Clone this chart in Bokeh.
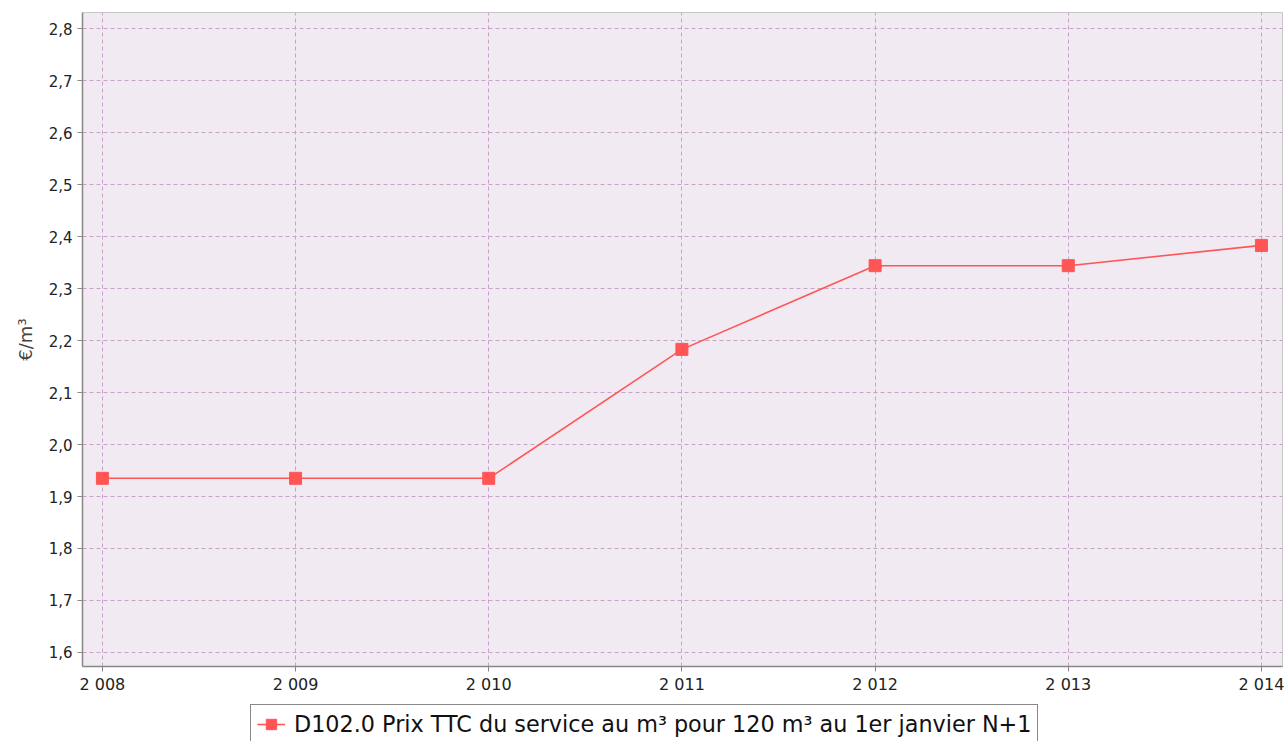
from bokeh.plotting import figure
from bokeh.models import (FixedTicker, CustomJSTickFormatter, Legend, LegendItem, Range1d, ColumnDataSource)
from bokeh.layouts import column
from bokeh.embed import file_html
from bokeh.resources import INLINE

years = [2008, 2009, 2010, 2011, 2012, 2013, 2014]
prices = [1.935, 1.935, 1.935, 2.183, 2.344, 2.344, 2.383]
year_labels = ["2 008", "2 009", "2 010", "2 011", "2 012", "2 013", "2 014"]
y_ticks = [1.6, 1.7, 1.8, 1.9, 2.0, 2.1, 2.2, 2.3, 2.4, 2.5, 2.6, 2.7, 2.8]
series_name = "D102.0 Prix TTC du service au m³ pour 120 m³ au 1er janvier N+1"
y_title = "€/m³"

FONT = "DejaVu Sans"
RED = "#ff5555"

p = figure(width=1288, height=696, output_backend="svg", toolbar_location=None,
           x_range=Range1d(2007.897, 2014.109), y_range=Range1d(1.573, 2.831),
           min_border_left=82, min_border_right=6, min_border_top=12, min_border_bottom=30)

p.background_fill_color = "#f2eaf2"
p.border_fill_color = "white"
p.outline_line_color = "#c8c8c8"
p.outline_line_width = 1

for g in (p.xgrid, p.ygrid):
    g.grid_line_color = "#c6a4c8"
    g.grid_line_dash = "4 3"
    g.grid_line_width = 1

p.xaxis.ticker = FixedTicker(ticks=years)
p.xaxis.major_label_overrides = {y: l for y, l in zip(years, year_labels)}
p.yaxis.ticker = FixedTicker(ticks=y_ticks)
p.yaxis.formatter = CustomJSTickFormatter(code="return tick.toFixed(1).replace('.', ',');")

for ax in (p.xaxis[0], p.yaxis[0]):
    ax.axis_line_color = "#888888"
    ax.axis_line_width = 1.5
    ax.major_tick_line_color = "#888888"
    ax.major_tick_in = 0
    ax.major_tick_out = 5
    ax.minor_tick_line_color = None
    ax.major_label_text_font = FONT
    ax.major_label_text_font_size = "15px"
    ax.major_label_text_color = "#222222"
p.xaxis.major_label_text_font_size = "16px"
p.xaxis.major_label_standoff = 3

p.yaxis.axis_label = y_title
p.yaxis.axis_label_text_font = FONT
p.yaxis.axis_label_text_font_size = "18px"
p.yaxis.axis_label_text_font_style = "normal"
p.yaxis.axis_label_standoff = 10

p.line(years, prices, line_color=RED, line_width=1.6)
p.scatter(years, prices, marker="square", size=12, fill_color=RED, line_color=RED)

# legend strip below the chart (its frame is aligned with the chart's frame)
lg = figure(width=1288, height=45, output_backend="svg", toolbar_location=None,
            x_range=Range1d(0, 1), y_range=Range1d(0, 1),
            min_border_left=0, min_border_right=0, min_border_top=0, min_border_bottom=0)
lg.axis.visible = False
lg.grid.visible = False
lg.outline_line_color = None
lg.background_fill_color = "white"
empty = ColumnDataSource(data=dict(x=[float("nan")], y=[float("nan")]))
lln = lg.line("x", "y", source=empty, line_color=RED, line_width=1.6)
lsq = lg.scatter("x", "y", source=empty, marker="square", size=12, fill_color=RED, line_color=RED)

legend = Legend(items=[LegendItem(label=series_name, renderers=[lln, lsq])],
                location=(168, -3), orientation="horizontal")
legend.label_text_font = FONT
legend.label_text_font_size = "22.3px"
legend.label_text_color = "#111111"
legend.border_line_color = "#111111"
legend.border_line_width = 1.5
legend.background_fill_color = "white"
legend.background_fill_alpha = 1
legend.padding = 6
legend.spacing = 0
legend.glyph_width = 28
legend.glyph_height = 26
legend.label_height = 26
legend.label_standoff = 9
legend.margin = 0
lg.add_layout(legend, "center")

layout = column(p, lg, spacing=0)
open("out.html", "w").write(file_html(layout, INLINE))
